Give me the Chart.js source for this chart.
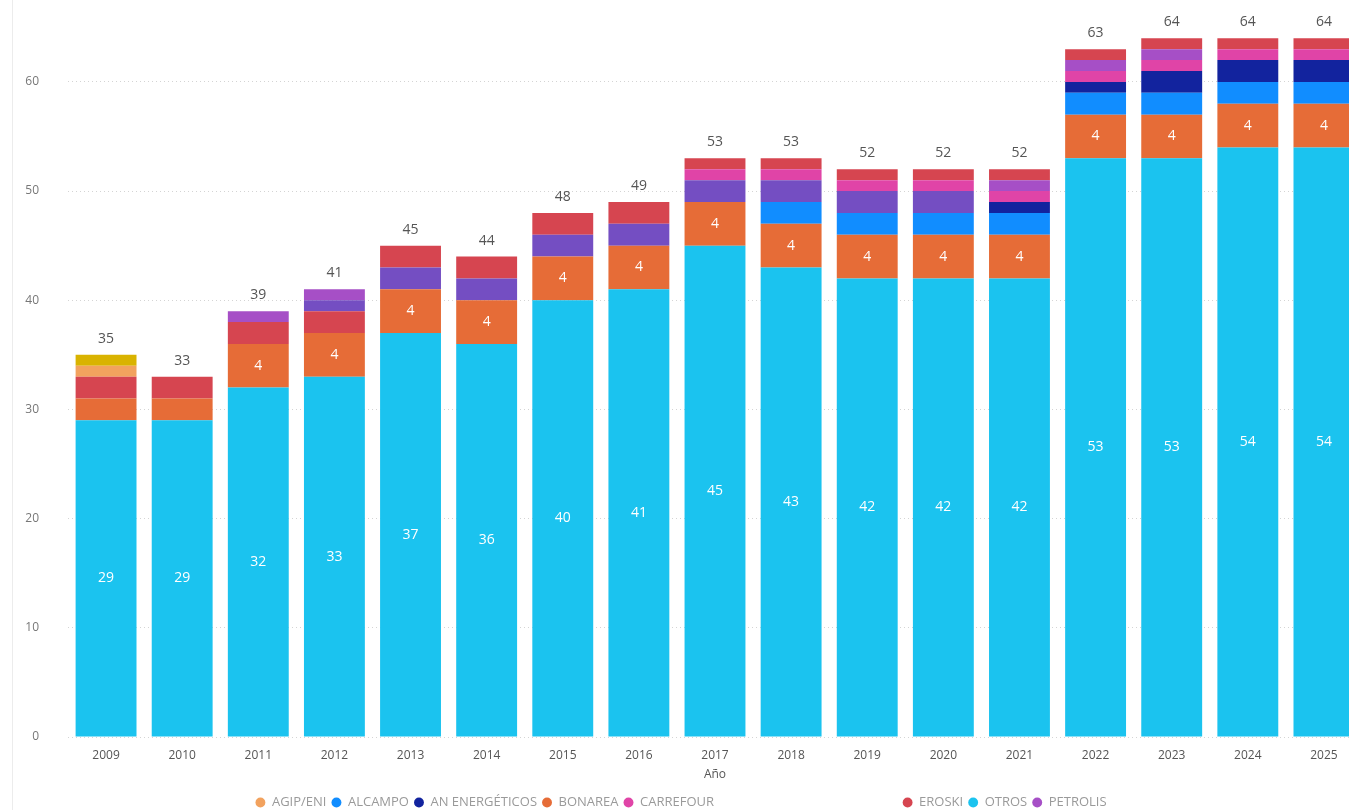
<!DOCTYPE html>
<html>
<head>
<meta charset="utf-8">
<script src="https://cdn.jsdelivr.net/npm/chart.js@4.4.1/dist/chart.umd.min.js"></script>
<style>
  html, body { margin: 0; padding: 0; background: #fff; overflow: hidden; }
  #wrap { position: relative; width: 1362px; height: 810px; }
  #borde { position: absolute; left: 12px; top: 0; width: 1px; height: 810px; background: #ececec; }
</style>
</head>
<body>
<div id="wrap">
  <div id="borde"></div>
  <canvas id="grafico"></canvas>
</div>
<script>
// Datos (orden de apilado: de abajo hacia arriba)
const anios = ['2009','2010','2011','2012','2013','2014','2015','2016','2017','2018','2019','2020','2021','2022','2023','2024','2025'];
const otros       = [29,29,32,33,37,36,40,41,45,43,42,42,42,53,53,54,54];
const bonarea     = [2,2,4,4,4,4,4,4,4,4,4,4,4,4,4,4,4];
const alcampo     = [0,0,0,0,0,0,0,0,0,2,2,2,2,2,2,2,2];
const anEnerg     = [0,0,0,0,0,0,0,0,0,0,0,0,1,1,2,2,2];
const eroskiIni   = [2,2,2,2,0,0,0,0,0,0,0,0,0,0,0,0,0];
const agipEni     = [1,0,0,0,0,0,0,0,0,0,0,0,0,0,0,0,0];
const amarillo    = [1,0,0,0,0,0,0,0,0,0,0,0,0,0,0,0,0];
const violeta     = [0,0,0,1,2,2,2,2,2,2,2,2,0,0,0,0,0];
const carrefour   = [0,0,0,0,0,0,0,0,1,1,1,1,1,1,1,1,1];
const petrolis    = [0,0,1,1,0,0,0,0,0,0,0,0,1,1,1,0,0];
const eroski      = [0,0,0,0,2,2,2,2,1,1,1,1,1,1,1,1,1];
const ticksY      = [0,10,20,30,40,50,60];

const series = [
  { label: 'OTROS', data: otros, color: '#1bc3ef', etiqueta: true },
  { label: 'BONAREA', data: bonarea, color: '#e66c37', etiqueta: true },
  { label: 'ALCAMPO', data: alcampo, color: '#118dff' },
  { label: 'AN ENERGÉTICOS', data: anEnerg, color: '#12239e' },
  { label: 'EROSKI', data: eroskiIni, color: '#d64550', oculto: true },
  { label: 'AGIP/ENI', data: agipEni, color: '#f2a25e' },
  { label: '', data: amarillo, color: '#d9b300', oculto: true },
  { label: '', data: violeta, color: '#744ec2', oculto: true },
  { label: 'CARREFOUR', data: carrefour, color: '#e044a7' },
  { label: 'PETROLIS', data: petrolis, color: '#a64fc6' },
  { label: 'EROSKI', data: eroski, color: '#d64550' }
];
const ordenLeyenda = ['AGIP/ENI','ALCAMPO','AN ENERGÉTICOS','BONAREA','CARREFOUR','|','EROSKI','OTROS','PETROLIS'];

const fuente = "'Open Sans', 'Noto Sans', sans-serif";

// Etiquetas de valores y totales
const etiquetas = {
  id: 'etiquetas',
  afterDatasetsDraw(chart) {
    const ctx = chart.ctx;
    ctx.save();
    ctx.textAlign = 'center';
    ctx.textBaseline = 'middle';
    chart.data.datasets.forEach((ds, i) => {
      if (!ds.etiqueta) return;
      const meta = chart.getDatasetMeta(i);
      meta.data.forEach((bar, j) => {
        const v = ds.data[j];
        if (v < 4) return;
        ctx.fillStyle = '#ffffff';
        ctx.font = '14px ' + fuente;
        ctx.fillText(String(v), bar.x, (bar.y + bar.base) / 2);
      });
    });
    const y = chart.scales.y;
    const x = chart.scales.x;
    anios.forEach((a, j) => {
      const total = chart.data.datasets.reduce((s, ds) => s + ds.data[j], 0);
      ctx.fillStyle = '#555555';
      ctx.font = '14px ' + fuente;
      ctx.fillText(String(total), x.getPixelForValue(j), y.getPixelForValue(total) - 16);
    });
    ctx.restore();
  }
};

const ctx = document.getElementById('grafico').getContext('2d');
new Chart(ctx, {
  type: 'bar',
  data: {
    labels: anios,
    datasets: series.map(s => ({
      label: s.label,
      data: s.data,
      backgroundColor: s.color,
      borderWidth: 0,
      etiqueta: !!s.etiqueta,
      oculto: !!s.oculto,
      categoryPercentage: 0.8,
      barPercentage: 1
    }))
  },
  options: {
    responsive: true,
    maintainAspectRatio: false,
    animation: false,
    layout: { padding: { top: 0, bottom: -9, left: 0, right: 0 } },
    plugins: {
      tooltip: { enabled: false },
      legend: {
        position: 'bottom',
        onClick: () => {},
        labels: {
          usePointStyle: true,
          pointStyle: 'circle',
          boxWidth: 10,
          boxHeight: 7,
          padding: 5,
          color: '#9a9a9a',
          font: { family: fuente, size: 13 },
          generateLabels(chart) {
            const base = Chart.defaults.plugins.legend.labels.generateLabels(chart);
            return ordenLeyenda.map(n => {
              if (n === '|') {
                return { text: ' '.repeat(48), fillStyle: 'rgba(0,0,0,0)', strokeStyle: 'rgba(0,0,0,0)', lineWidth: 0, pointStyle: 'circle', hidden: false, datasetIndex: -1 };
              }
              return base.find(l => l.text === n && !chart.data.datasets[l.datasetIndex].oculto);
            });
          }
        }
      }
    },
    scales: {
      x: {
        stacked: true,
        grid: { display: false },
        border: { display: false },
        ticks: { color: '#555', font: { family: fuente, size: 12 }, padding: 3 },
        title: { display: true, text: 'Año', color: '#555', font: { family: fuente, size: 12 }, padding: { top: 0, bottom: 9 } },
        afterFit(s) { s.height = 54; }
      },
      y: {
        stacked: true,
        min: 0,
        max: 67.5,
        afterBuildTicks(s) { s.ticks = ticksY.map(v => ({ value: v })); },
        grid: { color: '#d4d4d4', drawTicks: false, lineWidth: 1 },
        border: { display: false, dash: [1, 3] },
        ticks: { color: '#777', font: { family: fuente, size: 12 }, padding: 29 },
        afterFit(s) { s.width = 68; s.paddingTop = 0; s.paddingBottom = 0; }
      }
    }
  },
  plugins: [etiquetas]
});
</script>
</body>
</html>
